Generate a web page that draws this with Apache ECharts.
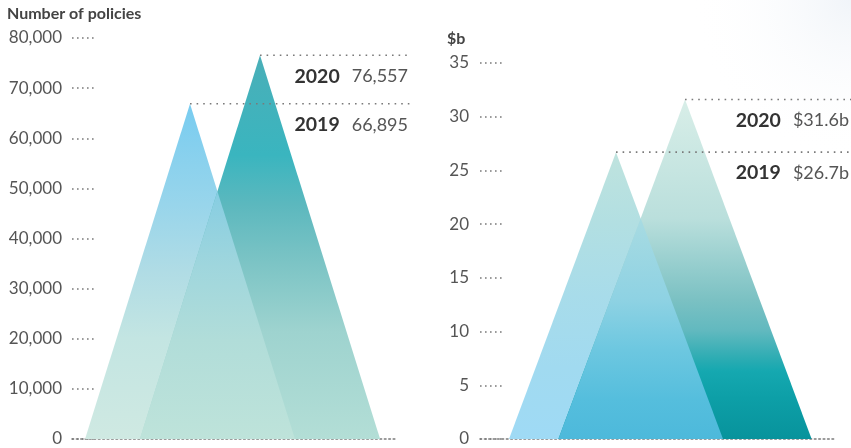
<!DOCTYPE html>
<html>
<head>
<meta charset="utf-8">
<script src="https://cdn.jsdelivr.net/npm/echarts@6/dist/echarts.min.js"></script>
<style>
  html, body { margin: 0; padding: 0; background: #fff; }
  #chart { width: 851px; height: 448px; }
</style>
</head>
<body>
<div id="chart"></div>
<script>
// ---- data ----
const years = ['2019', '2020'];
const policyCounts = [66895, 76557];
const premiumsBn = [26.7, 31.6];
const policyAxisTicks = [0, 10000, 20000, 30000, 40000, 50000, 60000, 70000, 80000];
const premiumAxisTicks = [0, 5, 10, 15, 20, 25, 30, 35];

// ---- styles ----
const FONT = 'Lato, "Open Sans", sans-serif';
const DOT = '#7a7a7a';

// gradient stops: offset 0 = apex, 1 = baseline
const leftStyles = {
  first:   [[0, '#78ccf0'], [0.3, '#98d5eb'], [0.5, '#b0dce5'], [0.7, '#c3e5e2'], [1, '#cfe9e2']],
  second:  [[0, '#4aafb8'], [0.26, '#3ab5bf'], [0.39, '#5cb8be'], [0.54, '#7cc4c5'], [0.72, '#9ed3cf'], [1, '#b3ded6']],
  overlap: [[0, '#86cde2'], [0.3, '#9fd6dd'], [0.6, '#b1ddd9'], [1, '#bee3da']]
};
const rightStyles = {
  first:   [[0, '#bfe3de'], [0.25, '#b2dfe2'], [0.5, '#a8dcea'], [0.75, '#a1daf0'], [1, '#9fdaf5']],
  second:  [[0, '#d8eee8'], [0.35, '#badfdc'], [0.59, '#7bc1c3'], [0.68, '#62b9bf'], [0.77, '#28abb2'], [0.8, '#15a8b0'], [0.88, '#0d9fa7'], [1, '#08939c']],
  overlap: [[0, '#a8dbe2'], [0.37, '#8ed2e3'], [0.6, '#6cc7e0'], [0.82, '#55bedd'], [1, '#4db9db']]
};

function gradient(stops, y0, y1) {
  return new echarts.graphic.LinearGradient(0, y0, 0, y1,
    stops.map(s => ({ offset: s[0], color: s[1] })), true);
}

// Builds the "mountain" renderer: each year is a triangle whose apex sits at its value,
// with base width proportional to its height.
function mountains(values, styles, slope, fmt, leaderPad) {
  return function (params, api) {
    const i = params.dataIndex;
    const cs = params.coordSys;
    const baseY = api.coord([0, 0])[1];
    const apex = values.map((v, j) => api.coord([j, v]));
    const tri = j => {
      const [px, py] = apex[j];
      const hw = slope * (baseY - py);
      return [[px - hw, baseY], [px, py], [px + hw, baseY]];
    };
    const children = [];
    const [px, py] = apex[i];
    children.push({
      type: 'polygon', z2: i,
      shape: { points: tri(i) },
      style: { fill: gradient(i === 0 ? styles.first : styles.second, py, baseY) }
    });
    if (i === 1) {
      // region shared by both triangles
      const a = tri(0), b = tri(1);
      const [ax, ay] = apex[0], [bx, by] = apex[1];
      const cy = (bx - ax) / (2 * slope) + (ay + by) / 2;
      const cx = ax + slope * (cy - ay);
      children.push({
        type: 'polygon', z2: 2,
        shape: { points: [[b[0][0], baseY], [cx, cy], [a[2][0], baseY]] },
        style: { fill: gradient(styles.overlap, cy, baseY) }
      });
    }
    const endX = cs.x + cs.width + leaderPad;
    children.push({
      type: 'line', z2: 5,
      shape: { x1: px, y1: py, x2: endX, y2: py },
      style: { stroke: DOT, lineWidth: 1.6, lineDash: [1.6, 5] }
    });
    children.push({
      type: 'text', z2: 6,
      x: endX - 2, y: py + 21,
      style: {
        text: '{y|' + years[i] + '}{v|' + fmt(values[i]) + '}',
        align: 'right', verticalAlign: 'middle',
        rich: {
          y: { fontFamily: FONT, fontWeight: 'bold', fontSize: 19.5, fill: '#333' },
          v: { fontFamily: FONT, fontSize: 18, fill: '#555', padding: [0, 0, 0, 12] }
        }
      }
    });
    return { type: 'group', children };
  };
}

function yAxisFor(ticks, gridIndex, labelFmt, margin) {
  return {
    type: 'value', gridIndex,
    min: ticks[0], max: ticks[ticks.length - 1], interval: ticks[1] - ticks[0],
    splitLine: { show: false },
    axisLine: { show: false, onZero: false },
    axisTick: { show: true, inside: true, length: 22, lineStyle: { color: DOT, width: 1.6, type: [1.6, 3.4] } },
    axisLabel: { margin, color: '#555', fontFamily: FONT, fontSize: 17, formatter: labelFmt }
  };
}

function xAxisFor(gridIndex, min, max) {
  return {
    type: 'value', gridIndex, min, max,
    splitLine: { show: false }, axisTick: { show: false }, axisLabel: { show: false },
    axisLine: { show: true, onZero: false, lineStyle: { color: DOT, width: 1.6, type: [1.6, 2.8] } }
  };
}

const chart = echarts.init(document.getElementById('chart'), null, { renderer: 'canvas' });
chart.setOption({
  animation: false,
  backgroundColor: '#fff',
  graphic: [
    {
      type: 'rect', silent: true, z: -10,
      shape: { x: 560, y: 0, width: 291, height: 160 },
      style: {
        fill: new echarts.graphic.RadialGradient(1, 0, 1, [
          { offset: 0, color: 'rgba(236,241,247,0.75)' },
          { offset: 1, color: 'rgba(255,255,255,0)' }
        ])
      }
    },
    { type: 'text', left: 7, top: 6, style: { text: 'Number of policies', fontFamily: FONT, fontWeight: 'bold', fontSize: 16, fill: '#444' } },
    { type: 'text', left: 447, top: 31, style: { text: '$b', fontFamily: FONT, fontWeight: 'bold', fontSize: 16, fill: '#444' } }
  ],
  grid: [
    { left: 72, right: 456, top: 38, bottom: 9 },
    { left: 480, right: 16, top: 63, bottom: 9 }
  ],
  xAxis: [xAxisFor(0, -1.686, 2.929), xAxisFor(1, -1.971, 3.174)],
  yAxis: [
    yAxisFor(policyAxisTicks, 0, v => v.toLocaleString('en-US'), 10),
    yAxisFor(premiumAxisTicks, 1, v => String(v), 11)
  ],
  series: [
    {
      type: 'custom', xAxisIndex: 0, yAxisIndex: 0, clip: false,
      data: policyCounts.map((v, j) => [j, v]),
      renderItem: mountains(policyCounts, leftStyles, 0.313, v => v.toLocaleString('en-US'), 15)
    },
    {
      type: 'custom', xAxisIndex: 1, yAxisIndex: 1, clip: false,
      data: premiumsBn.map((v, j) => [j, v]),
      renderItem: mountains(premiumsBn, rightStyles, 0.373, v => '$' + v.toFixed(1) + 'b', 16)
    }
  ]
});
</script>
</body>
</html>
